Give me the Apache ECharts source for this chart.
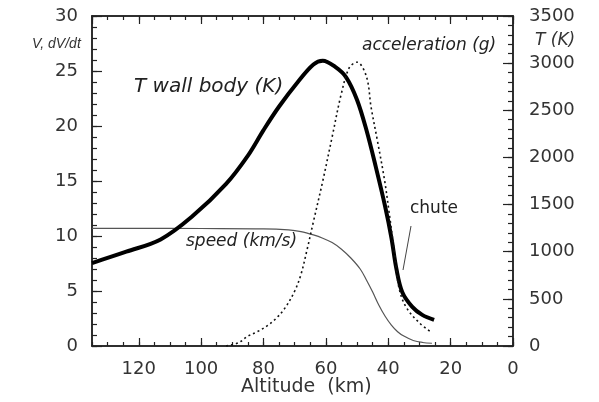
<!DOCTYPE html>
<html><head><meta charset="utf-8">
<script src="https://cdn.jsdelivr.net/npm/echarts@6/dist/echarts.min.js"></script>
<style>html,body{margin:0;padding:0;background:#fff}#c{width:599px;height:402px}</style>
</head><body><div id="c"></div>
<script>
// Altitude (km) / value pairs
var speedAlt = [135,120,100,80,72,68,64,61,58,55,52,49,47,45,43,41,39,37,35,32,29,26];
var speedVal = [10.7,10.7,10.68,10.65,10.55,10.4,10.1,9.8,9.4,8.8,8.0,7.0,6.0,4.9,3.7,2.7,1.9,1.3,0.9,0.5,0.32,0.25];
var tempAlt = [135,124,113,103,92,85,80,75,69,64,61,57,53.5,50,47,44,41,39,37.4,35.5,32.3,29.1,25.3];
var tempVal = [880,1000,1130,1370,1720,2020,2290,2540,2800,2985,3025,2960,2850,2610,2290,1900,1480,1150,820,570,415,330,276];
var accAlt = [92,88,85,82,79,76,73,70,68,66,64,61,58,55,52.5,50,47,45.5,43.5,41.2,39.7,37.8,36.5,34.2,30,26];
var accVal = [0,0.3,0.9,1.3,1.8,2.5,3.5,5,6.5,8.8,11.3,15,19,23,25.3,25.8,24.5,21.7,18.7,15.1,12.1,8,5.2,3.5,2.1,1.2];
var xTicks = [0,20,40,60,80,100,120];
var leftTicks = [0,5,10,15,20,25,30];
var rightTicks = [0,500,1000,1500,2000,2500,3000,3500];

function pairs(a,b){return a.map(function(x,i){return [x,b[i]];});}
var fontL = 'DejaVu Sans, sans-serif';
var fontI = 'Liberation Sans, Arial, sans-serif';
var axLine = {show:true, onZero:false, lineStyle:{color:'#222', width:1.5}};
function xAx(pos, iv, len, lab){
  return {type:'value', min:0, max:135, interval:iv, inverse:true, position:pos,
    axisLine:axLine,
    axisTick:{show:true, inside:true, length:len, lineStyle:{color:'#222',width:1.2}},
    splitLine:{show:false},
    axisLabel:{show:lab, showMaxLabel:false, color:'#333', fontSize:18, fontFamily:fontL, margin:14}
  };
}
function yAx(pos, max, iv, len, lab){
  return {type:'value', min:0, max:max, interval:iv, position:pos,
    axisLine:axLine,
    axisTick:{show:true, inside:true, length:len, lineStyle:{color:'#222',width:1.2}},
    splitLine:{show:false},
    axisLabel:{show:lab, color:'#333', fontSize:18, fontFamily:fontL, margin:pos==='left'?14:16,
      formatter:function(v){return String(v);}}
  };
}
var chart = echarts.init(document.getElementById('c'), null, {renderer:'canvas'});
chart.setOption({
  animation:false,
  backgroundColor:'#fff',
  grid:{left:92, right:86, top:16, bottom:56},
  xAxis:[xAx('bottom',20,8,true), xAx('top',20,8,false), xAx('bottom',5,4,false), xAx('top',5,4,false)],
  yAxis:[yAx('left',30,5,10,true), yAx('right',3500,500,10,true), yAx('left',30,1,5,false), yAx('right',3500,100,5,false)],
  series:[
    {name:'speed (km/s)', type:'line', data:pairs(speedAlt,speedVal), smooth:0.35, showSymbol:false,
      lineStyle:{color:'#555', width:1.2}},
    {name:'T wall body (K)', type:'line', yAxisIndex:1, data:pairs(tempAlt,tempVal), smooth:0.35, showSymbol:false,
      lineStyle:{color:'#000', width:4}},
    {name:'acceleration (g)', type:'line', data:pairs(accAlt,accVal), smooth:0.35, showSymbol:false,
      lineStyle:{color:'#111', width:1.6, type:[2,3]}}
  ],
  graphic:[
    {type:'text', left:32, top:37, style:{text:'V, dV/dt', font:'italic 14px '+fontI, fill:'#333'}},
    {type:'text', left:535, top:32, style:{text:'T (K)', font:'oblique 17px '+fontL, fill:'#333'}},
    {type:'text', left:241, top:378, style:{text:'Altitude  (km)', font:'19px '+fontL, fill:'#333'}},
    {type:'text', left:134, top:77, style:{text:'T wall body (K)', font:'oblique 20px '+fontL, fill:'#222'}},
    {type:'text', left:362, top:37, style:{text:'acceleration (g)', font:'oblique 17px '+fontL, fill:'#222'}},
    {type:'text', left:186, top:233, style:{text:'speed (km/s)', font:'oblique 17px '+fontL, fill:'#222'}},
    {type:'text', left:410, top:200, style:{text:'chute', font:'17px '+fontL, fill:'#222'}},
    {type:'line', shape:{x1:411, y1:226, x2:403, y2:270}, style:{stroke:'#444', lineWidth:1}}
  ]
});
</script></body></html>
